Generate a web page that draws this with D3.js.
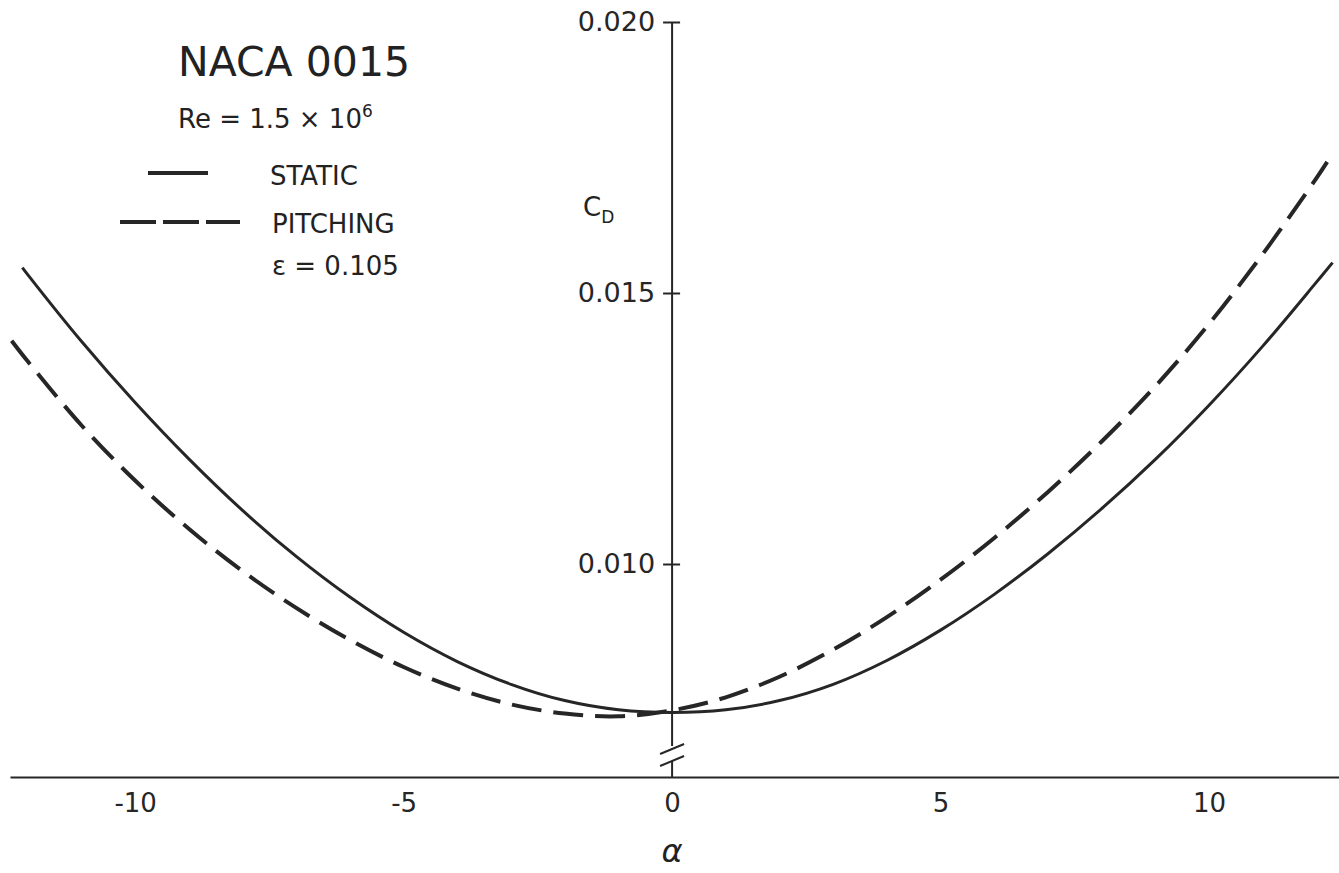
<!DOCTYPE html>
<html>
<head>
<meta charset="utf-8">
<script src="https://cdn.jsdelivr.net/npm/d3@7"></script>
<style>
  body { margin: 0; background: #fff; }
  svg text { font-family: "DejaVu Sans", sans-serif; fill: #222; }
</style>
</head>
<body>
<svg width="1339" height="873"></svg>
<script>
// angle of attack (deg) and drag coefficient
const alphaStatic = [-12.1, -12, -11, -10, -9, -8, -7, -6, -5, -4, -3, -2, -1, 0, 1, 2, 3, 4, 5, 6, 7, 8, 9, 10, 11, 12, 12.3];
const cdStatic = [0.01547, 0.01534, 0.01411, 0.01298, 0.01194, 0.01099, 0.01014, 0.00939, 0.00874, 0.00820, 0.00778, 0.00748, 0.00731, 0.00726,
  0.00731, 0.00748, 0.00778, 0.00822, 0.00878, 0.00944, 0.01019, 0.01102, 0.01193, 0.01293, 0.01402, 0.01520, 0.01556];

const alphaPitching = [-12.3, -12, -11, -10, -9, -8, -7, -6, -5, -4, -3, -2, -1, 0, 1, 2, 3, 4, 5, 6, 7, 8, 9, 10, 11, 12, 12.2];
const cdPitching = [0.01412, 0.01374, 0.01256, 0.01154, 0.01065, 0.00987, 0.00919, 0.00860, 0.00810, 0.00770, 0.00741, 0.00724, 0.00719, 0.00730,
  0.00754, 0.00792, 0.00842, 0.00902, 0.00971, 0.01048, 0.01133, 0.01226, 0.01328, 0.01443, 0.01572, 0.01712, 0.01742];

const xTicks = [-10, -5, 0, 5, 10];
const yTicks = [0.010, 0.015, 0.020];
const xDomain = [-12.33, 12.42];
const yDomain = [0.010, 0.020];

const ink = "#262626";
const svg = d3.select("svg");

const x = d3.scaleLinear().domain(xDomain).range([10, 1339]);
const y = d3.scaleLinear().domain(yDomain).range([564, 22]);
const baseY = 777;

// x axis
const xAxis = svg.append("g")
  .attr("transform", `translate(0,${baseY})`)
  .call(d3.axisBottom(x).tickValues(xTicks).tickSize(0).tickPadding(17)
    .tickFormat(d => d < 0 ? "-" + Math.abs(d) : d));
xAxis.select(".domain").attr("stroke", ink).attr("stroke-width", 2);
xAxis.selectAll("text").attr("font-size", 26).style("fill", ink);

// y axis (drawn at alpha = 0, with a break near the bottom)
const x0 = x(0);
const yAxis = svg.append("g")
  .attr("transform", `translate(${x0},0)`)
  .call(d3.axisLeft(y).tickValues(yTicks).tickSize(9).tickPadding(8)
    .tickFormat(d3.format(".3f")));
yAxis.select(".domain").remove();
yAxis.selectAll(".tick line").attr("x1", 8).attr("stroke", ink).attr("stroke-width", 2);
yAxis.selectAll("text").attr("font-size", 27).style("fill", ink);

svg.append("line").attr("x1", x0).attr("x2", x0)
  .attr("y1", y(0.020)).attr("y2", baseY - 31)
  .attr("stroke", ink).attr("stroke-width", 2);
svg.append("line").attr("x1", x0).attr("x2", x0)
  .attr("y1", baseY - 16).attr("y2", baseY)
  .attr("stroke", ink).attr("stroke-width", 2);
[0, 12].forEach(off => {
  svg.append("line")
    .attr("x1", x0 - 12).attr("y1", baseY - 23 + off)
    .attr("x2", x0 + 12).attr("y2", baseY - 33 + off)
    .attr("stroke", ink).attr("stroke-width", 2);
});

// curves
const line = d3.line().x(d => x(d[0])).y(d => y(d[1])).curve(d3.curveCatmullRom);

svg.append("path")
  .datum(d3.zip(alphaStatic, cdStatic))
  .attr("d", line)
  .attr("fill", "none").attr("stroke", ink).attr("stroke-width", 3);

svg.append("path")
  .datum(d3.zip(alphaPitching, cdPitching))
  .attr("d", line)
  .attr("fill", "none").attr("stroke", ink).attr("stroke-width", 4)
  .attr("stroke-dasharray", "30,12");

// axis labels
const cd = svg.append("text").attr("x", 583).attr("y", 216).attr("font-size", 26);
cd.append("tspan").text("C");
cd.append("tspan").attr("font-size", 17).attr("dy", 7).text("D");

svg.append("text").attr("x", x0).attr("y", 862)
  .attr("text-anchor", "middle").attr("font-size", 32).attr("font-style", "italic")
  .text("α");

// legend / title block
svg.append("text").attr("x", 178).attr("y", 76).attr("font-size", 41).text("NACA 0015");

const re = svg.append("text").attr("x", 178).attr("y", 128).attr("font-size", 26);
re.append("tspan").text("Re = 1.5 × 10");
re.append("tspan").attr("font-size", 17).attr("dy", -11).text("6");

svg.append("line").attr("x1", 148).attr("x2", 208).attr("y1", 173).attr("y2", 173)
  .attr("stroke", ink).attr("stroke-width", 4);
svg.append("text").attr("x", 270).attr("y", 185).attr("font-size", 26).text("STATIC");

svg.append("line").attr("x1", 120).attr("x2", 240).attr("y1", 222).attr("y2", 222)
  .attr("stroke", ink).attr("stroke-width", 4).attr("stroke-dasharray", "36,7");
svg.append("text").attr("x", 272).attr("y", 233).attr("font-size", 26).text("PITCHING");
svg.append("text").attr("x", 272).attr("y", 275).attr("font-size", 26).text("ε = 0.105");
</script>
</body>
</html>
